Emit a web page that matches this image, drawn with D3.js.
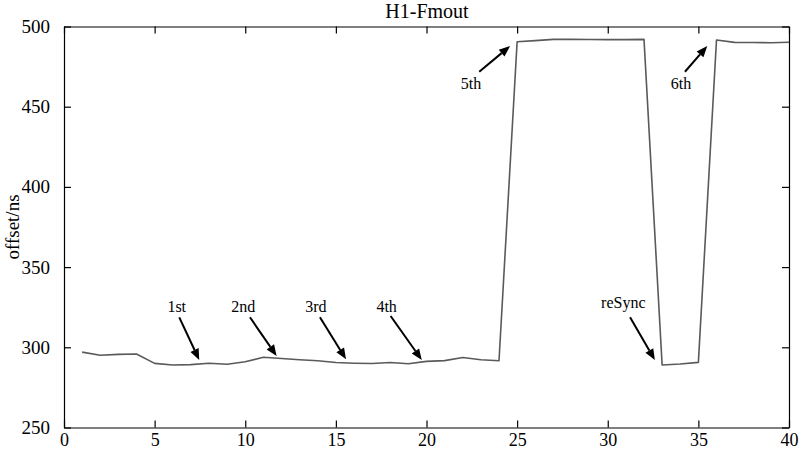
<!DOCTYPE html>
<html><head><meta charset="utf-8">
<script src="https://cdn.jsdelivr.net/npm/d3@7"></script>
<style>
html,body{margin:0;padding:0;background:#fff;}
svg{display:block;font-family:"Liberation Serif","Times New Roman",serif;}
</style></head>
<body><svg id="c" width="800" height="453"></svg>
<script>
const sampleIdx = [1,2,3,4,5,6,7,8,9,10,11,12,13,14,15,16,17,18,19,20,21,22,23,24,25,26,27,28,29,30,31,32,33,34,35,36,37,38,39,40];
const offsetNs = [297,295,295.6,295.8,290,289,289.2,290.1,289.4,291,293.8,293,292.2,291.6,290.5,290.1,289.9,290.5,289.7,291.2,291.7,293.6,292.2,291.6,490.5,491.2,492,492,491.9,491.8,491.8,492,289,289.6,290.6,491.6,490.1,490,489.9,490.2];
const xTicks = [0,5,10,15,20,25,30,35,40];
const yTicks = [250,300,350,400,450,500];
const annLabels = ["1st","2nd","3rd","4th","5th","6th","reSync"];
const annTipX  = [7.46,11.73,15.56,19.74,24.61,35.49,32.6];
const annTipY  = [292.1,294.6,292.5,292.1,487.8,487.8,292.1];
const annTailX = [6.36,10.26,14.12,18.02,22.91,34.26,31.23];
const annTailY = [318.7,318.7,318.7,319.5,471.8,471.8,318.7];
const annTextX = [6.22,9.89,13.9,17.8,22.46,34.04,30.86];
const annTextY = [322.2,322.2,322.2,322.2,460.8,460.8,324.3];
const titleText = "H1-Fmout";
const yLabel = "offset/ns";

const svg = d3.select("#c");
const L=64, R=789, T=26.5, B=427.5;
const x = d3.scaleLinear().domain([0,40]).range([L,R]);
const y = d3.scaleLinear().domain([250,500]).range([B,T]);

const fmt = d3.format("d");
function styleAxis(g){
  g.selectAll("path.domain").attr("stroke","#000").attr("stroke-width",1.2);
  g.selectAll(".tick line").attr("stroke","#000").attr("stroke-width",1.2);
  g.selectAll("text").attr("font-family",'"Liberation Serif","Times New Roman",serif').attr("font-size",19).attr("fill","#000");
}
svg.append("g").attr("transform",`translate(0,${B})`)
  .call(d3.axisBottom(x).tickValues(xTicks).tickFormat(fmt).tickSizeInner(-7).tickSizeOuter(0).tickPadding(6))
  .call(styleAxis)
  .call(g=>g.selectAll("text").attr("font-size",18));
svg.append("g").attr("transform",`translate(0,${T})`)
  .call(d3.axisTop(x).tickValues(xTicks).tickFormat("").tickSizeInner(-7).tickSizeOuter(0))
  .call(styleAxis);
svg.append("g").attr("transform",`translate(${L},0)`)
  .call(d3.axisLeft(y).tickValues(yTicks).tickFormat(fmt).tickSizeInner(-7).tickSizeOuter(0).tickPadding(14))
  .call(styleAxis);
svg.append("g").attr("transform",`translate(${R},0)`)
  .call(d3.axisRight(y).tickValues(yTicks).tickFormat("").tickSizeInner(-7).tickSizeOuter(0))
  .call(styleAxis);

const line = d3.line().x((d,i)=>x(sampleIdx[i])).y(d=>y(d));
svg.append("path").datum(offsetNs).attr("d",line)
  .attr("fill","none").attr("stroke","#5a5a5a").attr("stroke-width",1.6).attr("stroke-linejoin","round");

svg.append("text").attr("x",(L+R)/2 + 0.5).attr("y",17.5).attr("text-anchor","middle")
  .attr("font-size",20).text(titleText);
svg.append("text").attr("transform",`translate(18.5,${(T+B)/2}) rotate(-90)`)
  .attr("text-anchor","middle").attr("font-size",19).text(yLabel);

annLabels.forEach((lab,i)=>{
  const x1=x(annTailX[i]), y1=y(annTailY[i]), x2=x(annTipX[i]), y2=y(annTipY[i]);
  const ang=Math.atan2(y2-y1,x2-x1), hl=11, hw=4.5;
  const bx=x2-hl*Math.cos(ang), by=y2-hl*Math.sin(ang);
  svg.append("line").attr("x1",x1).attr("y1",y1).attr("x2",bx).attr("y2",by)
    .attr("stroke","#000").attr("stroke-width",2);
  const px=-Math.sin(ang), py=Math.cos(ang);
  svg.append("path").attr("d",`M${x2},${y2}L${bx+px*hw},${by+py*hw}L${bx-px*hw},${by-py*hw}Z`).attr("fill","#000");
  svg.append("text").attr("x",x(annTextX[i])).attr("y",y(annTextY[i])).attr("text-anchor","middle")
    .attr("font-size",16).text(lab);
});
</script></body></html>
